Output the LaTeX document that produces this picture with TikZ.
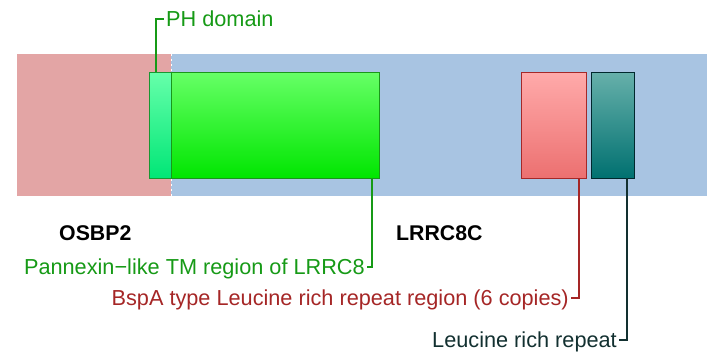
\documentclass[tikz,border=0pt]{standalone}
\usepackage{fontspec}
\setmainfont{Liberation Sans}
\begin{document}
\begin{tikzpicture}[x=1pt,y=-1pt,
  lbl/.style={inner sep=0pt, text height=15.5pt, text depth=0pt, font=\fontsize{21.7}{25}\selectfont},
  gene/.style={inner sep=0pt, anchor=base west, font=\fontsize{21.3}{25}\selectfont\bfseries},
  dom/.style={draw, line width=1pt, minimum height=106pt, inner sep=0pt, anchor=north west},
  conn/.style={line width=1.2pt}]
\definecolor{bgpink}{RGB}{227,165,165}
\definecolor{bgblue}{RGB}{168,196,226}
\definecolor{gtxt}{RGB}{22,154,22}
\definecolor{rtxt}{RGB}{165,38,38}
\definecolor{ttxt}{RGB}{18,48,48}
\useasboundingbox (0,0) rectangle (707,358);
% backgrounds
\fill[bgpink] (17,54) rectangle (171,196);
\fill[bgblue] (171,54) rectangle (707,196);
\draw[white, line width=0.8pt, dash pattern=on 2pt off 3pt] (171,54) -- (171,196);
% domains
\node[dom, minimum width=22pt, draw={rgb,255:red,26;green,150;blue,50}, top color={rgb,255:red,102;green,255;blue,170}, bottom color={rgb,255:red,0;green,230;blue,118}] (ph) at (149,72) {};
\node[dom, minimum width=208pt, draw={rgb,255:red,26;green,150;blue,26}, top color={rgb,255:red,102;green,255;blue,102}, bottom color={rgb,255:red,0;green,230;blue,0}] (pan) at (171,72) {};
\node[dom, minimum width=65pt, draw={rgb,255:red,165;green,40;blue,40}, top color={rgb,255:red,255;green,170;blue,170}, bottom color={rgb,255:red,236;green,112;blue,112}] (bspa) at (521,72) {};
\node[dom, minimum width=43pt, draw={rgb,255:red,0;green,40;blue,45}, top color={rgb,255:red,102;green,176;blue,170}, bottom color={rgb,255:red,0;green,112;blue,112}] (lrr) at (591,72) {};
% gene names
\node[gene] (osbp) at (59,241) {OSBP2};
\node[gene] (lrrc) at (396,241) {LRRC8C};
% labels
\node[lbl, anchor=west, text=gtxt] (phl) at (166,19) {PH domain};
\node[lbl, anchor=east, text=gtxt] (panl) at (365,267) {Pannexin−like TM region of LRRC8};
\node[lbl, anchor=east, text=rtxt] (bspal) at (569,298) {BspA type Leucine rich repeat region (6 copies)};
\node[lbl, anchor=east, text=ttxt] (lrrl) at (617,340) {Leucine rich repeat};
% connectors
\coordinate (phc) at (156,72);
\coordinate (panc) at (372,178);
\coordinate (bspac) at (579,178);
\coordinate (lrrc0) at (627,178);
\draw[conn, gtxt] (phc) |- ([xshift=-2pt]phl.west);
\draw[conn, gtxt] (panc) |- ([xshift=2pt]panl.east);
\draw[conn, rtxt] (bspac) |- ([xshift=2pt]bspal.east);
\draw[conn, ttxt] (lrrc0) |- ([xshift=2pt]lrrl.east);
\end{tikzpicture}
\end{document}
